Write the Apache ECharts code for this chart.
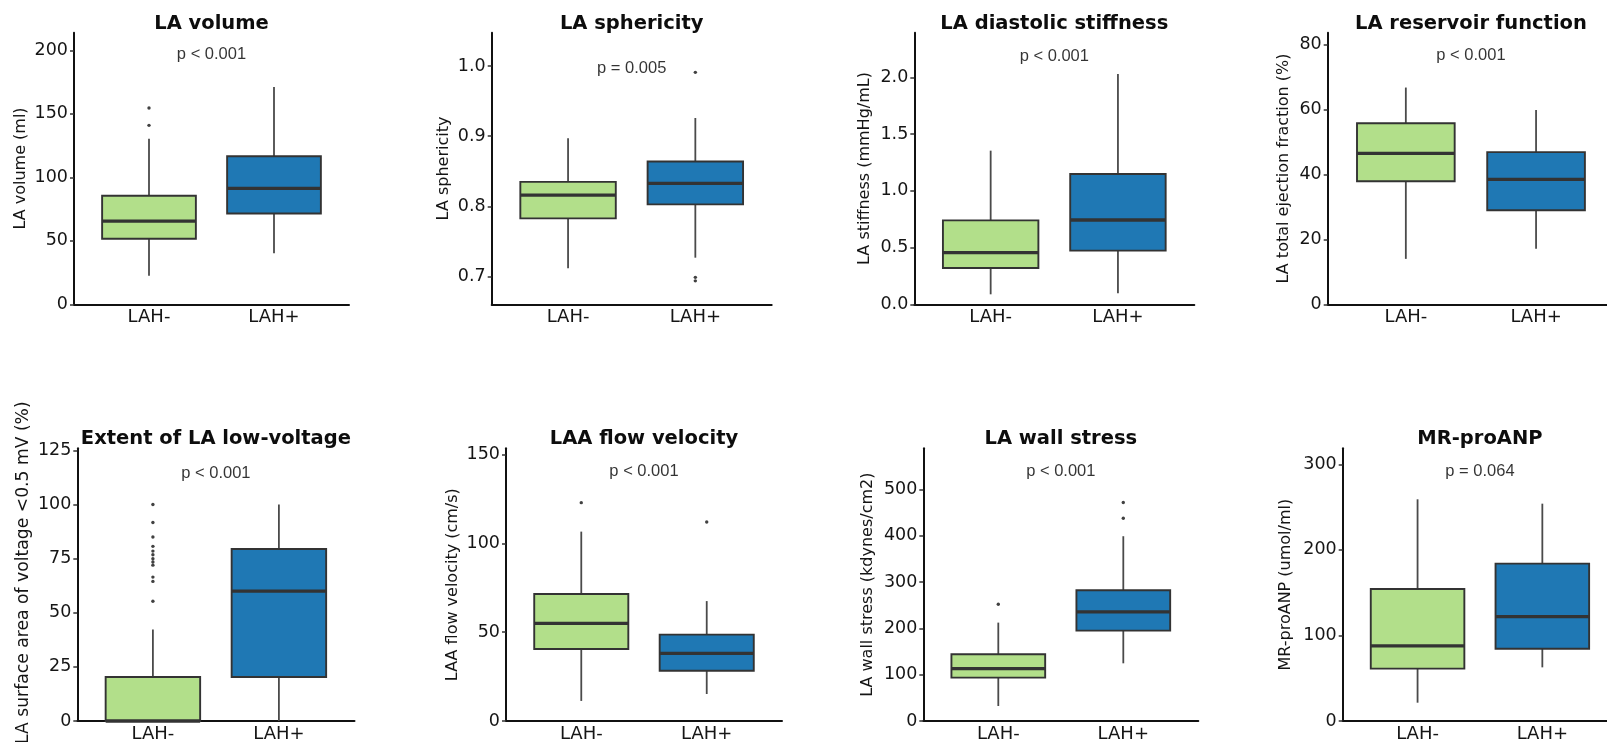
<!DOCTYPE html>
<html>
<head>
<meta charset="utf-8">
<script src="https://cdn.jsdelivr.net/npm/echarts@6/dist/echarts.min.js"></script>
<style>
  html, body { margin: 0; padding: 0; background: #fff; }
  #chart { width: 1607px; height: 742px; }
</style>
</head>
<body>
<div id="chart"></div>
<script>
// Groups on every panel
const groups = ['LAH-', 'LAH+'];

// Box summaries per group: [lower whisker, Q1, median, Q3, upper whisker]
const laVolumeBox = [[22.4, 51.6, 65.5, 85.5, 130.5], [40.3, 71.6, 91.3, 116.6, 171.3]];
const laVolumeOutliers = [[154.7, 141.0], []];
const laVolumeTicks = [0, 50, 100, 150, 200];

const laSphericityBox = [[0.712, 0.783, 0.816, 0.835, 0.897], [0.727, 0.803, 0.833, 0.864, 0.926]];
const laSphericityOutliers = [[], [0.991, 0.699, 0.694]];
const laSphericityTicks = [0.7, 0.8, 0.9, 1.0];

const laStiffnessBox = [[0.088, 0.320, 0.455, 0.740, 1.354], [0.097, 0.473, 0.743, 1.148, 2.029]];
const laStiffnessOutliers = [[], []];
const laStiffnessTicks = [0, 0.5, 1.0, 1.5, 2.0];

const laReservoirBox = [[14.0, 37.9, 46.5, 55.8, 66.8], [17.1, 29.0, 38.5, 46.9, 59.9]];
const laReservoirOutliers = [[], []];
const laReservoirTicks = [0, 20, 40, 60, 80];

const lowVoltageBox = [[0, 0, 0, 20.3, 42.3], [0, 20.3, 60.0, 79.5, 100]];
const lowVoltageOutliers = [[100, 91.7, 85.0, 80.7, 78.5, 76.8, 75.0, 73.5, 72.0, 66.5, 64.5, 55.3], []];
const lowVoltageTicks = [0, 25, 50, 75, 100, 125];

const laaFlowBox = [[11.3, 40.5, 55.0, 71.5, 106.6], [15.2, 28.3, 38.1, 48.6, 67.5]];
const laaFlowOutliers = [[122.9], [112.0]];
const laaFlowTicks = [0, 50, 100, 150];

const wallStressBox = [[32.4, 93.7, 113.1, 144.1, 212.5], [124.6, 195.2, 235.6, 282.4, 399.1]];
const wallStressOutliers = [[252.2], [438.0, 471.9]];
const wallStressTicks = [0, 100, 200, 300, 400, 500];

const proAnpBox = [[21.4, 61.2, 87.7, 154.3, 259.1], [62.7, 84.5, 121.9, 183.9, 254.0]];
const proAnpOutliers = [[], []];
const proAnpTicks = [0, 100, 200, 300];

// Panel texts
const panelTitles = ['LA volume', 'LA sphericity', 'LA diastolic stiffness', 'LA reservoir function',
  'Extent of LA low-voltage', 'LAA flow velocity', 'LA wall stress', 'MR-proANP'];
const yAxisTitles = ['LA volume (ml)', 'LA sphericity', 'LA stiffness (mmHg/mL)', 'LA total ejection fraction (%)',
  'LA surface area of voltage <0.5 mV (%)', 'LAA flow velocity (cm/s)', 'LA wall stress (kdynes/cm2)', 'MR-proANP (umol/ml)'];
const pValueTexts = ['p < 0.001', 'p = 0.005', 'p < 0.001', 'p < 0.001', 'p < 0.001', 'p < 0.001', 'p < 0.001', 'p = 0.064'];
const pValueHeights = [197, 0.997, 2.18, 76.8, 114.6, 140.3, 540, 292];

const boxSets = [laVolumeBox, laSphericityBox, laStiffnessBox, laReservoirBox, lowVoltageBox, laaFlowBox, wallStressBox, proAnpBox];
const outlierSets = [laVolumeOutliers, laSphericityOutliers, laStiffnessOutliers, laReservoirOutliers,
  lowVoltageOutliers, laaFlowOutliers, wallStressOutliers, proAnpOutliers];
const tickSets = [laVolumeTicks, laSphericityTicks, laStiffnessTicks, laReservoirTicks,
  lowVoltageTicks, laaFlowTicks, wallStressTicks, proAnpTicks];
const yRanges = [[0, 214], [0.6606, 1.0475], [0, 2.3935], [0, 83.7], [0, 126], [0, 153.5], [0, 589], [0, 318.7]];
const tickDecimals = [0, 1, 1, 0, 0, 0, 0, 0];

// Layout of the 2 x 4 panels (pixels)
const gridLayout = [
  { left: 74, top: 32.7, width: 275, height: 271.6 },
  { left: 491.7, top: 32.7, width: 280, height: 271.6 },
  { left: 914.3, top: 32.7, width: 280, height: 271.6 },
  { left: 1327.7, top: 32.7, width: 286.5, height: 271.6 },
  { left: 77.3, top: 448.3, width: 277.2, height: 272.7 },
  { left: 506, top: 448.3, width: 276, height: 272.7 },
  { left: 923.3, top: 448.3, width: 275, height: 272.7 },
  { left: 1342.7, top: 448.3, width: 274.5, height: 272.7 }
];
const yNameGaps = [45.5, 40, 41.5, 36, 45, 45, 47.3, 48.5];
const yNameSizes = [16, 16, 16, 16, 17.2, 16, 16, 16];
// the long low-voltage title sits a little above the panel middle
const yNamePadding = [0, 0, 0, 0, [0, 0, 0, 24], 0, 0, 0];

const BOX_WIDTH = 0.75;
const fillColors = ['#b2df8a', '#1f78b4'];
const lineColor = '#333333';
const textColor = '#151515';
const wideFont = 'DejaVu Sans';
const plainFont = 'Liberation Sans';

function renderBox(params, api) {
  const x = api.value(0);
  const lo = api.coord([x, api.value(1)]);
  const q1 = api.coord([x, api.value(2)]);
  const md = api.coord([x, api.value(3)]);
  const q3 = api.coord([x, api.value(4)]);
  const hi = api.coord([x, api.value(5)]);
  const w = api.size([BOX_WIDTH, 0])[0];
  const cx = q1[0];
  const whisker = { stroke: '#4a4a4a', lineWidth: 1.8 };
  return {
    type: 'group',
    children: [
      { type: 'line', shape: { x1: cx, y1: q3[1], x2: cx, y2: hi[1] }, style: whisker },
      { type: 'line', shape: { x1: cx, y1: q1[1], x2: cx, y2: lo[1] }, style: whisker },
      { type: 'rect', shape: { x: cx - w / 2, y: q3[1], width: w, height: q1[1] - q3[1] },
        style: { fill: fillColors[params.dataIndex], stroke: lineColor, lineWidth: 1.9 } },
      { type: 'line', shape: { x1: cx - w / 2, y1: md[1], x2: cx + w / 2, y2: md[1] },
        style: { stroke: lineColor, lineWidth: 3.3 } }
    ]
  };
}

const grid = [], xAxis = [], yAxis = [], series = [], graphic = [];

gridLayout.forEach((g, i) => {
  grid.push({
    left: g.left, top: g.top, width: g.width, height: g.height,
    containLabel: false, outerBoundsMode: 'none'
  });

  xAxis.push({
    type: 'value', gridIndex: i, min: 0.4, max: 2.6,
    axisLine: { show: true, lineStyle: { color: '#111', width: 2 } },
    axisTick: { show: false, customValues: [1, 2] },
    splitLine: { show: false },
    axisLabel: {
      customValues: [1, 2], margin: 4,
      formatter: v => groups[Math.round(v) - 1],
      fontFamily: wideFont, fontSize: 18, color: textColor
    }
  });

  const dec = tickDecimals[i];
  yAxis.push({
    type: 'value', gridIndex: i, min: yRanges[i][0], max: yRanges[i][1],
    name: yAxisTitles[i], nameLocation: 'middle', nameGap: yNameGaps[i],
    nameTextStyle: { fontFamily: wideFont, fontSize: yNameSizes[i], color: textColor, padding: yNamePadding[i] },
    axisLine: { show: true, lineStyle: { color: '#111', width: 2 } },
    axisTick: { show: true, length: 4, customValues: tickSets[i], lineStyle: { color: '#333', width: 1.5 } },
    splitLine: { show: false },
    axisLabel: {
      customValues: tickSets[i], margin: 6,
      formatter: v => Number(v).toFixed(dec),
      fontFamily: wideFont, fontSize: 17.5, color: textColor
    }
  });

  series.push({
    type: 'custom', xAxisIndex: i, yAxisIndex: i, renderItem: renderBox, silent: true,
    encode: { x: 0, y: [1, 2, 3, 4, 5] },
    data: boxSets[i].map((b, k) => [k + 1].concat(b)),
    z: 2
  });

  const pts = [];
  outlierSets[i].forEach((vals, k) => vals.forEach(v => pts.push([k + 1, v])));
  series.push({
    type: 'scatter', xAxisIndex: i, yAxisIndex: i, silent: true,
    symbol: 'circle', symbolSize: 3.4, itemStyle: { color: '#111' },
    data: pts, z: 3
  });

  series.push({
    type: 'scatter', xAxisIndex: i, yAxisIndex: i, silent: true,
    symbolSize: 0.1, itemStyle: { color: 'rgba(0,0,0,0)' },
    label: {
      show: true, position: 'inside', formatter: pValueTexts[i],
      fontFamily: plainFont, fontSize: 16.5, color: '#000'
    },
    data: [[1.5, pValueHeights[i]]], z: 4
  });

  graphic.push({
    type: 'text', silent: true,
    x: g.left + g.width / 2, y: i < 4 ? 24 : 439,
    style: {
      text: panelTitles[i], textAlign: 'center', textVerticalAlign: 'middle',
      fontFamily: wideFont, fontWeight: 'bold', fontSize: 19.5, fill: '#0d0d0d'
    }
  });
});

const chart = echarts.init(document.getElementById('chart'), null, { renderer: 'canvas' });
chart.setOption({
  backgroundColor: '#ffffff',
  animation: false,
  grid, xAxis, yAxis, series, graphic
});
</script>
</body>
</html>
